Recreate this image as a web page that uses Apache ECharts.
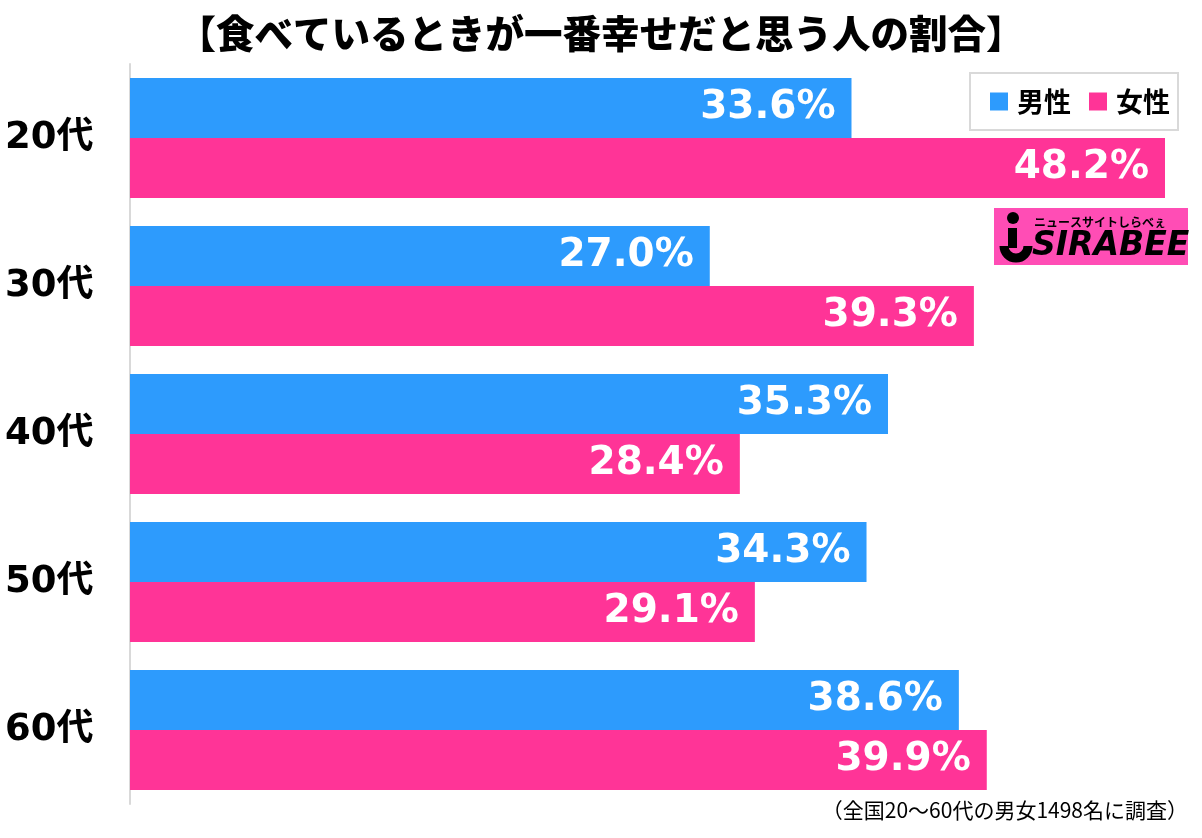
<!DOCTYPE html>
<html>
<head>
<meta charset="utf-8">
<script src="https://cdn.jsdelivr.net/npm/echarts@6/dist/echarts.min.js"></script>
<style>html,body{margin:0;padding:0;background:#fff}#c{width:1202px;height:838px}</style>
</head>
<body>
<div id="c"></div>
<script>
const categories = ['20代', '30代', '40代', '50代', '60代'];
const seriesNames = ['男性', '女性'];
const male = [33.6, 27.0, 35.3, 34.3, 38.6];
const female = [48.2, 39.3, 28.4, 29.1, 39.9];
const titleText = '【食べているときが一番幸せだと思う人の割合】';
const noteText = '（全国20〜60代の男女1498名に調査）';

const LATIN = "'DejaVu Sans', 'Noto Sans CJK JP', sans-serif";
const CJK = "'Noto Sans CJK JP', sans-serif";
const chart = echarts.init(document.getElementById('c'));
const labelCfg = {
  show: true,
  position: 'insideRight',
  distance: 16,
  color: '#fff',
  fontFamily: LATIN,
  fontWeight: 'bold',
  fontSize: 39,
  formatter: p => p.value.toFixed(1) + '%'
};
chart.setOption({
  animation: false,
  backgroundColor: '#fff',
  title: {
    text: titleText,
    left: 'center',
    top: 9,
    textStyle: { fontFamily: CJK, fontWeight: 900, fontSize: 38.5, color: '#000' }
  },
  legend: {
    data: seriesNames,
    left: 970,
    top: 73,
    orient: 'horizontal',
    icon: 'rect',
    itemWidth: 18,
    itemHeight: 18,
    itemGap: 18,
    borderColor: '#d9d9d9',
    borderWidth: 2,
    padding: [15, 8, 15, 20],
    textStyle: { fontFamily: CJK, fontWeight: 'bold', fontSize: 27, color: '#000', padding: [0, 0, 0, 4] }
  },
  grid: { left: 130, right: 37, top: 64, bottom: 34, containLabel: false },
  xAxis: { type: 'value', min: 0, max: 48.2, show: false },
  yAxis: {
    type: 'category',
    data: categories,
    inverse: true,
    axisTick: { show: false },
    axisLine: { show: true, lineStyle: { color: '#d9d9d9', width: 2 } },
    axisLabel: {
      align: 'left',
      margin: 125,
      color: '#000',
      fontFamily: LATIN,
      fontWeight: 'bold',
      fontSize: 37
    }
  },
  series: [
    { name: seriesNames[0], type: 'bar', data: male, barGap: '0%', barCategoryGap: '18.9%',
      itemStyle: { color: '#2D9BFD' }, label: labelCfg },
    { name: seriesNames[1], type: 'bar', data: female, barGap: '0%', barCategoryGap: '18.9%',
      itemStyle: { color: '#FF3497' }, label: labelCfg }
  ],
  graphic: [
    {
      type: 'text',
      right: 14,
      top: 800,
      style: { text: noteText, fontFamily: CJK, fontSize: 21, fill: '#000' }
    },
    {
      type: 'group',
      left: 994,
      top: 208,
      children: [
        { type: 'rect', shape: { x: 0, y: 0, width: 194, height: 57 }, style: { fill: '#FF4DB5' } },
        { type: 'circle', shape: { cx: 19, cy: 10, r: 6 }, style: { fill: '#000' } },
        { type: 'rect', shape: { x: 14, y: 20, width: 9, height: 20 }, style: { fill: '#000' } },
        { type: 'arc', shape: { cx: 22, cy: 38, r: 12, startAngle: 0, endAngle: Math.PI, clockwise: true },
          style: { stroke: '#000', lineWidth: 9, fill: null } },
        { type: 'text', x: 40, y: 8, style: { text: 'ニュースサイトしらべぇ', fontFamily: CJK, fontSize: 12, fill: '#000', fontWeight: 'bold' } },
        { type: 'text', x: 38, y: 22, style: { text: 'SIRABEE', fontFamily: "'DejaVu Sans', sans-serif", fontSize: 33, fontWeight: 'bold', fontStyle: 'italic', fill: '#000' } }
      ]
    }
  ]
});
</script>
</body>
</html>
